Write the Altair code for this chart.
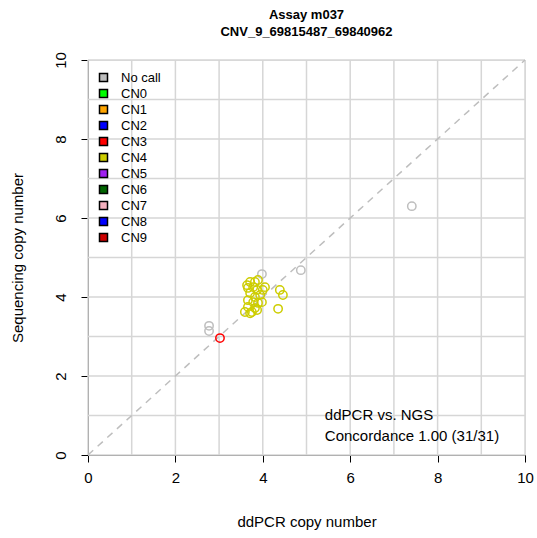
import altair as alt
import pandas as pd

# ---- data ----
categories = ["No call", "CN0", "CN1", "CN2", "CN3", "CN4", "CN5", "CN6", "CN7", "CN8", "CN9"]
cat_colors = ["#BEBEBE", "#00FF00", "#FFA500", "#0000FF", "#FF0000", "#CDCD00",
              "#A020F0", "#006400", "#F4B0BE", "#0000FF", "#CD0000"]
border_colors = ["black"] * len(categories)

nocall_x = [3.98, 4.87, 7.41, 2.77, 2.77]
nocall_y = [4.58, 4.68, 6.30, 3.27, 3.14]

cn3_x = [3.02]
cn3_y = [2.96]

cn4_x = [3.71, 3.82, 3.89, 3.78, 3.66, 3.87, 3.71, 3.94, 3.66, 3.78, 3.89, 3.66, 3.82,
         3.59, 3.75, 3.87, 4.05, 4.39, 4.46, 4.35, 4.00, 3.98, 3.71, 3.64, 3.82]
cn4_y = [4.38, 4.38, 4.43, 4.25, 4.23, 4.18, 4.10, 4.05, 3.92, 3.87, 3.85, 3.75, 3.72,
         3.62, 3.62, 3.67, 4.25, 4.18, 4.05, 3.70, 4.18, 3.87, 3.59, 4.30, 4.00]

grid_vals = [0, 1, 2, 3, 4, 5, 6, 7, 8, 9, 10]
tick_vals = [0, 2, 4, 6, 8, 10]
diag_x = [0, 10]
diag_y = [0, 10]

title_lines = ["Assay m037", "CNV_9_69815487_69840962"]
x_title = "ddPCR copy number"
y_title = "Sequencing copy number"

ann_lines = ["ddPCR vs. NGS", "Concordance 1.00 (31/31)"]
ann_x = [5.42, 5.42]
ann_y = [1.01, 0.47]

# ---- tables ----
pts = pd.DataFrame({
    "x": nocall_x + cn3_x + cn4_x,
    "y": nocall_y + cn3_y + cn4_y,
    "call": ["No call"] * len(nocall_x) + ["CN3"] * len(cn3_x) + ["CN4"] * len(cn4_x),
})
grid_df = pd.DataFrame({"g": grid_vals})
diag_df = pd.DataFrame({"x": diag_x, "y": diag_y})
ann_df = pd.DataFrame({"x": ann_x, "y": ann_y, "t": ann_lines})

FONT = "Liberation Sans"
xs = alt.Scale(domain=[0, 10], nice=False, zero=False)
ys = alt.Scale(domain=[0, 10], nice=False, zero=False)
cscale = alt.Scale(domain=categories, range=cat_colors)

xaxis = alt.Axis(values=tick_vals, grid=False, tickSize=7, tickColor="black", tickWidth=1,
                 domainColor="#444", labelFontSize=15, labelFont=FONT, labelColor="black",
                 labelFlush=False, labelOverlap=False,
                 labelPadding=8, title=x_title, titleFont=FONT, titleFontSize=15,
                 titleFontWeight="normal", titleColor="black", titlePadding=29)
yaxis = alt.Axis(values=tick_vals, grid=False, tickSize=7, tickColor="black", tickWidth=1,
                 domainColor="#444", labelFontSize=15, labelFont=FONT, labelColor="black",
                 labelFlush=False, labelOverlap=False,
                 labelAngle=270, labelAlign="center", labelBaseline="bottom", labelPadding=13,
                 title=y_title, titleFont=FONT, titleFontSize=15, titleFontWeight="normal",
                 titleColor="black", titlePadding=28)

def X(field):
    return alt.X(field, type="quantitative", scale=xs, axis=xaxis)

def Y(field):
    return alt.Y(field, type="quantitative", scale=ys, axis=yaxis)

def LEG():
    return alt.Legend(title=None, orient="none", legendX=9, legendY=11, padding=0,
                      symbolType="square", symbolSize=64, symbolOpacity=1,
                      symbolStrokeWidth=1.5, labelColor="black",
                      labelFont=FONT, labelFontSize=13, labelOffset=11, rowPadding=1)

vgrid = alt.Chart(grid_df).mark_rule(color="#D6D6D6", strokeWidth=1.5).encode(x=X("g"))
hgrid = alt.Chart(grid_df).mark_rule(color="#D6D6D6", strokeWidth=1.5).encode(y=Y("g"))

diag = alt.Chart(diag_df).mark_line(color="#BEBEBE", strokeWidth=1.5, strokeDash=[7, 6]).encode(
    x=X("x"), y=Y("y"))

points = alt.Chart(pts).mark_point(shape="circle", filled=False, size=70, strokeWidth=1.5,
                                   opacity=1).encode(
    x=X("x"), y=Y("y"),
    color=alt.Color("call:N", scale=cscale, legend=None),
)

# legend-only layer: all rows filtered out, it draws nothing but its legend
legend_layer = alt.Chart(pts).transform_filter("false").mark_point(
    shape="square", size=64, opacity=1, filled=True, strokeWidth=1.5).encode(
    x=X("x"), y=Y("y"),
    fill=alt.Fill("call:N", scale=cscale, sort=categories, legend=LEG()),
    stroke=alt.Stroke("call:N", scale=alt.Scale(domain=categories, range=border_colors),
                      sort=categories, legend=LEG()),
)

ann = alt.Chart(ann_df).mark_text(align="left", baseline="middle", font=FONT, fontSize=15,
                                  color="black").encode(x=X("x"), y=Y("y"), text="t:N")

chart = alt.layer(vgrid, hgrid, diag, legend_layer, points, ann).properties(
    width=437, height=395,
    title=alt.TitleParams(text=title_lines, font=FONT, fontSize=13, fontWeight="bold",
                          color="black", anchor="middle", offset=13, lineHeight=17),
    autosize=alt.AutoSizeParams(type="none"),
    padding={"left": 88, "top": 60, "right": 12, "bottom": 83},
).configure_view(stroke="#999999", strokeWidth=1).configure(background="white")

chart.save("out.html", embed_options={"renderer": "svg", "actions": False})
